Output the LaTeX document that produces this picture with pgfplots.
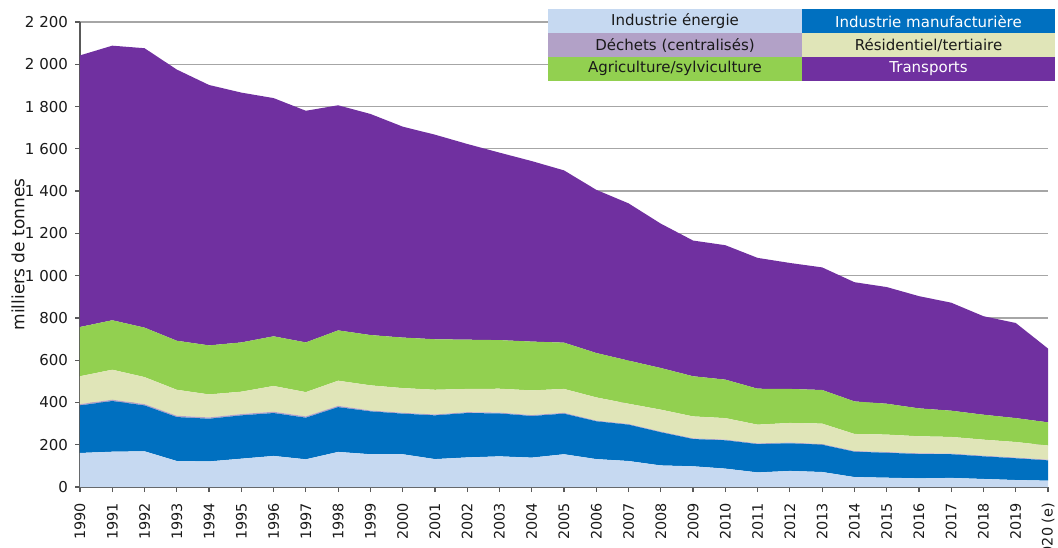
\documentclass[border=0pt]{standalone}
\usepackage{pgfplots}
\pgfplotsset{compat=1.18}
\usepackage{pgfplotstable}
\usepackage{fontspec}
\setmainfont{DejaVu Sans}

\definecolor{cE}{HTML}{C6D9F1}
\definecolor{cM}{HTML}{0070C0}
\definecolor{cD}{HTML}{B2A1C7}
\definecolor{cR}{HTML}{E0E5B8}
\definecolor{cA}{HTML}{92D050}
\definecolor{cT}{HTML}{7030A0}
\definecolor{gridgray}{HTML}{A6A6A6}
\definecolor{axisgray}{HTML}{595959}
\definecolor{txt}{HTML}{1A1A1A}

\pgfplotstableread{
year E M D R A T
1990 161 225 6 132 233 1285
1991 167 240 6 142 234 1299
1992 169 217 6 128 234 1322
1993 123 208 6 123 232 1283
1994 121 202 6 109 232 1232
1995 134 205 6 106 233 1182
1996 147 203 6 122 235 1127
1997 131 197 6 115 235 1096
1998 166 212 6 119 238 1065
1999 155 203 4 119 238 1046
2000 155 192 4 117 239 998
2001 132 207 4 117 239 968
2002 140 210 4 110 233 926
2003 145 203 4 113 230 887
2004 139 197 4 117 231 854
2005 155 192 4 113 219 815
2006 132 179 3 110 210 772
2007 123 172 3 96 204 744
2008 102 157 3 104 197 683
2009 98 129 3 104 190 642
2010 87 134 3 102 182 636
2011 69 134 3 89 170 619
2012 76 131 3 93 161 596
2013 71 129 3 97 159 580
2014 47 120 3 81 154 564
2015 44 118 3 83 146 552
2016 41 115 3 81 132 531
2017 43 112 3 79 124 511
2018 38 107 3 76 118 466
2019 33 103 3 74 113 450
2020 30 96 3 67 110 349
}\data

\begin{document}
\begin{tikzpicture}[font=\fontsize{7.5}{9}\selectfont]
\begin{axis}[
  scale only axis, width=484pt, height=232.5pt,
  xmin=1990, xmax=2020, ymin=0, ymax=2200,
  axis x line*=bottom, axis y line*=left,
  xtick={1990,1991,...,2020},
  xticklabels={1990,1991,1992,1993,1994,1995,1996,1997,1998,1999,2000,2001,2002,2003,2004,2005,2006,2007,2008,2009,2010,2011,2012,2013,2014,2015,2016,2017,2018,2019,2020 (e)},
  x tick label style={rotate=90, anchor=east, xshift=-2pt, font=\fontsize{7.2}{8}\selectfont, text=txt},
  ytick={0,200,...,2200},
  /pgf/number format/1000 sep={\ },
  /pgf/number format/assume math mode=true,
  y tick label style={font=\fontsize{7.5}{8}\selectfont, text=txt},
  ymajorgrids, grid style={draw=gridgray, line width=0.6pt},
  tick align=outside, major tick length=2.5pt,
  axis line style={draw=axisgray, line width=0.6pt},
  tick style={draw=axisgray, line width=0.6pt},
  stack plots=y,
  ylabel={milliers de tonnes},
  ylabel style={font=\fontsize{8.5}{10}\selectfont, text=txt, at={(axis description cs:-0.064,0.5)}, anchor=center},
]
\addplot[fill=cE, draw=none] table[x=year,y=E]{\data} \closedcycle;
\addplot[fill=cM, draw=none] table[x=year,y=M]{\data} \closedcycle;
\addplot[fill=cD, draw=none] table[x=year,y=D]{\data} \closedcycle;
\addplot[fill=cR, draw=none] table[x=year,y=R]{\data} \closedcycle;
\addplot[fill=cA, draw=none] table[x=year,y=A]{\data} \closedcycle;
\addplot[fill=cT, draw=none] table[x=year,y=T]{\data} \closedcycle;
\end{axis}
% legend
\fill[cE] (234pt,226.85pt) rectangle (361pt,238.85pt);
\fill[cM] (361pt,226.85pt) rectangle (487.5pt,238.85pt);
\fill[cD] (234pt,215pt) rectangle (361pt,226.85pt);
\fill[cR] (361pt,215pt) rectangle (487.5pt,226.85pt);
\fill[cA] (234pt,203.15pt) rectangle (361pt,215pt);
\fill[cT] (361pt,203.15pt) rectangle (487.5pt,215pt);
\node[text=txt] at (297.5pt,232.85pt) {Industrie énergie};
\node[white] at (424.25pt,232.85pt) {Industrie manufacturière};
\node[text=txt] at (297.5pt,220.9pt) {Déchets (centralisés)};
\node[text=txt] at (424.25pt,220.9pt) {Résidentiel/tertiaire};
\node[text=txt] at (297.5pt,209.1pt) {Agriculture/sylviculture};
\node[white] at (424.25pt,209.1pt) {Transports};
\pgfresetboundingbox
\path[use as bounding box] (-40pt,-30pt) rectangle (489pt,243.5pt);
\end{tikzpicture}
\end{document}
